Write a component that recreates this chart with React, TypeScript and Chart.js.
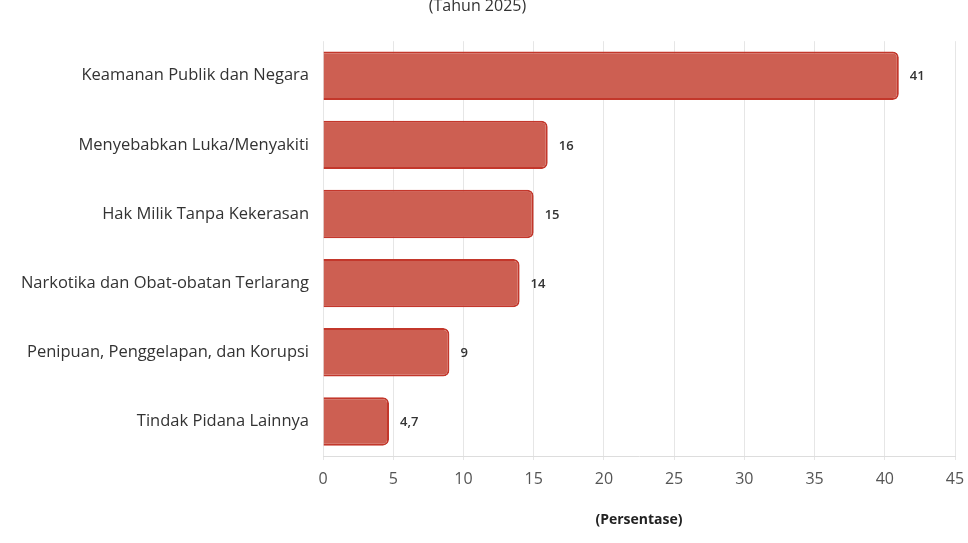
import React, { useEffect, useRef } from "react";
import { Chart, registerables } from "chart.js";

Chart.register(...registerables);

// data
const categories = [
  "Keamanan Publik dan Negara",
  "Menyebabkan Luka/Menyakiti",
  "Hak Milik Tanpa Kekerasan",
  "Narkotika dan Obat-obatan Terlarang",
  "Penipuan, Penggelapan, dan Korupsi",
  "Tindak Pidana Lainnya",
];
const values = [41, 16, 15, 14, 9, 4.7];
const subtitleText = "(Tahun 2025)";
const axisTitle = "(Persentase)";

const FONT = "'Open Sans', sans-serif";

// draws the value next to each bar
const valueLabels = {
  id: "valueLabels",
  afterDatasetsDraw(chart: any) {
    const { ctx } = chart;
    const meta = chart.getDatasetMeta(0);
    ctx.save();
    ctx.font = `600 13px ${FONT}`;
    ctx.fillStyle = "#333";
    ctx.textAlign = "left";
    ctx.textBaseline = "middle";
    meta.data.forEach((bar: any, i: number) => {
      const txt = String(values[i]).replace(".", ",");
      ctx.fillText(txt, bar.x + 11, bar.y + 1);
    });
    ctx.restore();
  },
};

const BarChart = () => {
  const canvasRef = useRef<HTMLCanvasElement>(null);

  useEffect(() => {
    if (!canvasRef.current) return;
    const chart = new Chart(canvasRef.current, {
      type: "bar",
      data: {
        labels: categories,
        datasets: [
          {
            data: values,
            backgroundColor: "#cd5f52",
            borderColor: "#c3372b",
            borderWidth: 2,
            borderRadius: 6,
            barPercentage: 0.7,
            categoryPercentage: 1,
          },
        ],
      },
      options: {
        indexAxis: "y",
        animation: false,
        responsive: false,
        maintainAspectRatio: false,
        layout: { padding: { top: 0, right: 13, bottom: 1, left: 0 } },
        plugins: {
          legend: { display: false },
          tooltip: { enabled: false },
          title: { display: false },
          subtitle: {
            display: true,
            text: subtitleText,
            color: "#333",
            font: { family: FONT, size: 16 },
            padding: { top: 2, bottom: 25 },
          },
        },
        scales: {
          x: {
            min: 0,
            max: 45,
            ticks: {
              stepSize: 5,
              color: "#555",
              font: { family: FONT, size: 16 },
              padding: 10,
            },
            grid: { color: "#e6e6e6", tickLength: 4 },
            border: { display: true, color: "#ddd" },
            title: {
              display: true,
              text: axisTitle,
              color: "#222",
              font: { family: FONT, size: 14, weight: "bold" },
              padding: { top: 12, bottom: 14 },
            },
            afterFit(scale: any) {
              // keep the plot edge where the reference has it
              scale.paddingRight = 0;
              scale.paddingLeft = 0;
            },
          },
          y: {
            ticks: {
              color: "#333",
              font: { family: FONT, size: 16.5 },
              padding: 6,
            },
            grid: { display: false },
            border: { display: false },
            afterFit(scale: any) {
              scale.width = 323;
            },
          },
        },
      },
      plugins: [valueLabels],
    });
    return () => chart.destroy();
  }, []);

  return (
    <div style={{ position: "fixed", top: -5, left: 0, width: 968, height: 548, background: "#fff" }}>
      <canvas ref={canvasRef} width={968} height={548}></canvas>
    </div>
  );
};

export default function App() {
  return <BarChart />;
}
